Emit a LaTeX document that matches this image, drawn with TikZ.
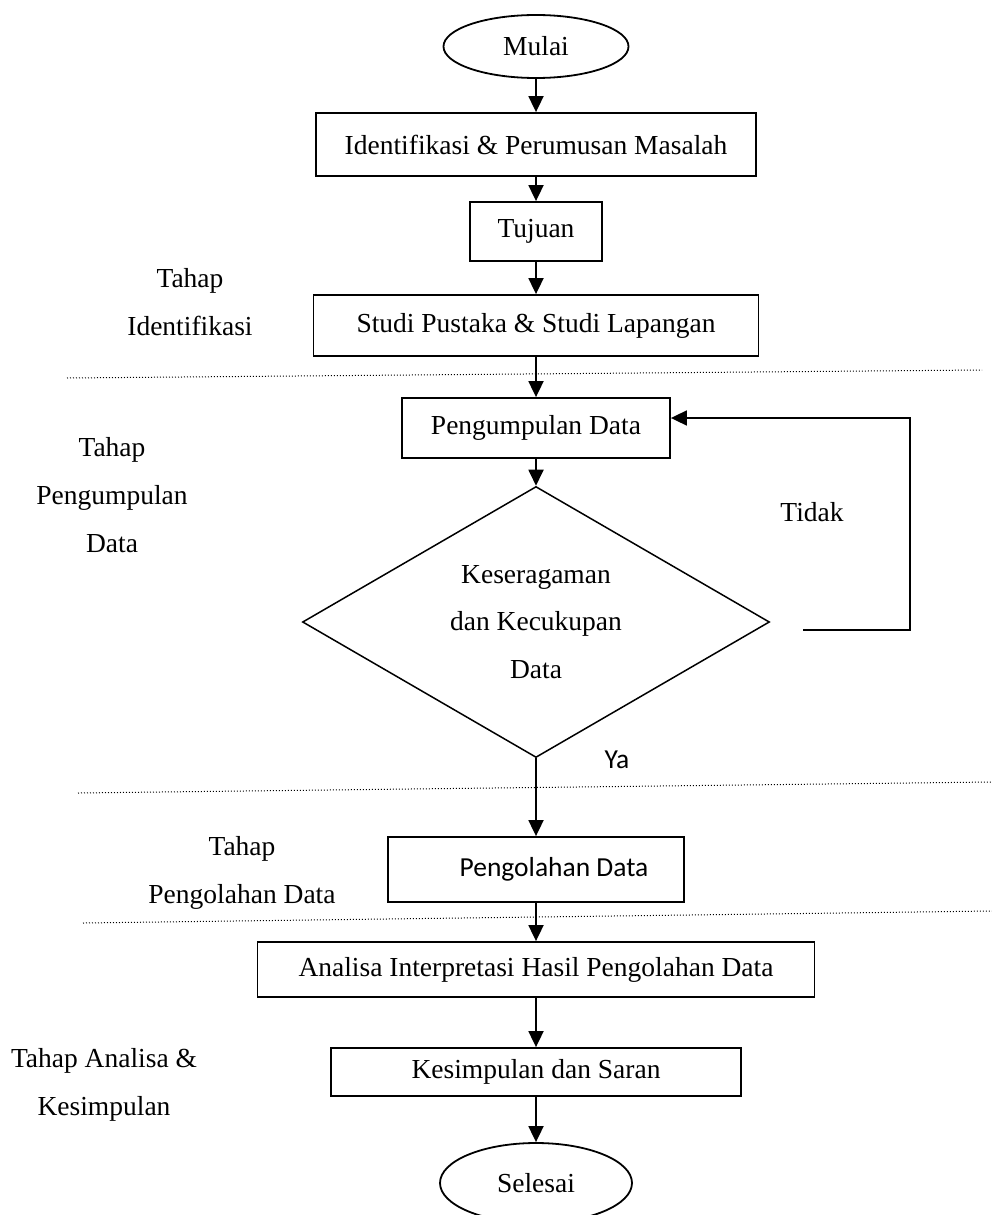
\documentclass[tikz,border=0pt]{standalone}
\usepackage{fontspec}
\setmainfont{Liberation Serif}
\newfontfamily\calibri{Carlito}
\usetikzlibrary{shapes.geometric,arrows.meta}

\begin{document}
\begin{tikzpicture}[x=1pt, y=-1pt, line width=1.8pt, >={Triangle[length=16pt,width=15pt]},
    kotak/.style={draw, rectangle, inner sep=0pt, font=\fontsize{27.5}{33}\selectfont},
    terminal/.style={draw, ellipse, inner sep=0pt, font=\fontsize{27.5}{33}\selectfont},
    keputusan/.style={draw, diamond, aspect=1.7, inner sep=0pt, line width=1.5pt, align=center,
        font=\fontsize{27.5}{47.5}\selectfont},
    tahap/.style={align=center, font=\fontsize{27.5}{48}\selectfont},
    batas/.style={line width=1pt, dash pattern=on 1pt off 2pt}]
    \useasboundingbox (0,0) rectangle (992,1215);
    % Alur utama
    \node[terminal, minimum width=185pt, minimum height=63pt] (mulai) at (536,46.5) {Mulai};
    \node[kotak, minimum width=440pt, minimum height=63pt] (identifikasi) at (536,144.5)
        {Identifikasi \& Perumusan Masalah};
    \node[kotak, minimum width=132pt, minimum height=59pt] (tujuan) at (536,231.5) {Tujuan};
    \node[kotak, minimum width=445pt, minimum height=61pt] (studi) at (536,325.5)
        {Studi Pustaka \& Studi Lapangan};
    \node[kotak, minimum width=268pt, minimum height=60pt] (kumpul) at (536,428) {Pengumpulan Data};
    \node[keputusan, minimum width=467pt, minimum height=271pt] (cek) at (536,622)
        {Keseragaman\\dan Kecukupan\\Data};
    \node[kotak, minimum width=296pt, minimum height=65pt] (olah) at (536,869.5)
        {\calibri\hspace*{36pt}Pengolahan Data};
    \node[kotak, minimum width=557pt, minimum height=55pt] (analisa) at (536,969.5)
        {Analisa Interpretasi Hasil Pengolahan Data};
    \node[kotak, minimum width=410pt, minimum height=48pt] (simpul) at (536,1072)
        {Kesimpulan dan Saran};
    \node[terminal, minimum width=192pt, minimum height=80pt] (selesai) at (536,1183) {Selesai};
    % Panah
    \draw[->] (mulai) -- (identifikasi);
    \draw[->] (identifikasi) -- (tujuan);
    \draw[->] (tujuan) -- (studi);
    \draw[->] (studi) -- (kumpul);
    \draw[->] (kumpul) -- (cek);
    \draw[->] (cek) -- (olah);
    \draw[->] (olah) -- (analisa);
    \draw[->] (analisa) -- (simpul);
    \draw[->] (simpul) -- (selesai);
    % Tidak: kembali ke pengumpulan data
    \coordinate (tidakawal) at (803,630);
    \coordinate (tidakatas) at (910,418);
    \draw[->] (tidakawal) -| (tidakatas) -- (tidakatas -| kumpul.east);
    \node[font=\fontsize{27.5}{33}\selectfont] (tidak) at (812,512) {Tidak};
    \node[font=\calibri\fontsize{27.5}{33}\selectfont] (ya) at (617,760) {Ya};
    % Batas tahap
    \draw[batas] (67,378) -- (982,370);
    \draw[batas] (78,793) -- (992,782);
    \draw[batas] (83,923) -- (992,911);
    % Nama tahap
    \node[tahap] (tahap1) at (190,302) {Tahap\\Identifikasi};
    \node[tahap] (tahap2) at (112,495) {Tahap\\Pengumpulan\\Data};
    \node[tahap] (tahap3) at (242,873) {Tahap\\Pengolahan Data};
    \node[tahap] (tahap4) at (104,1085) {Tahap Analisa \&\\Kesimpulan};
\end{tikzpicture}
\end{document}
